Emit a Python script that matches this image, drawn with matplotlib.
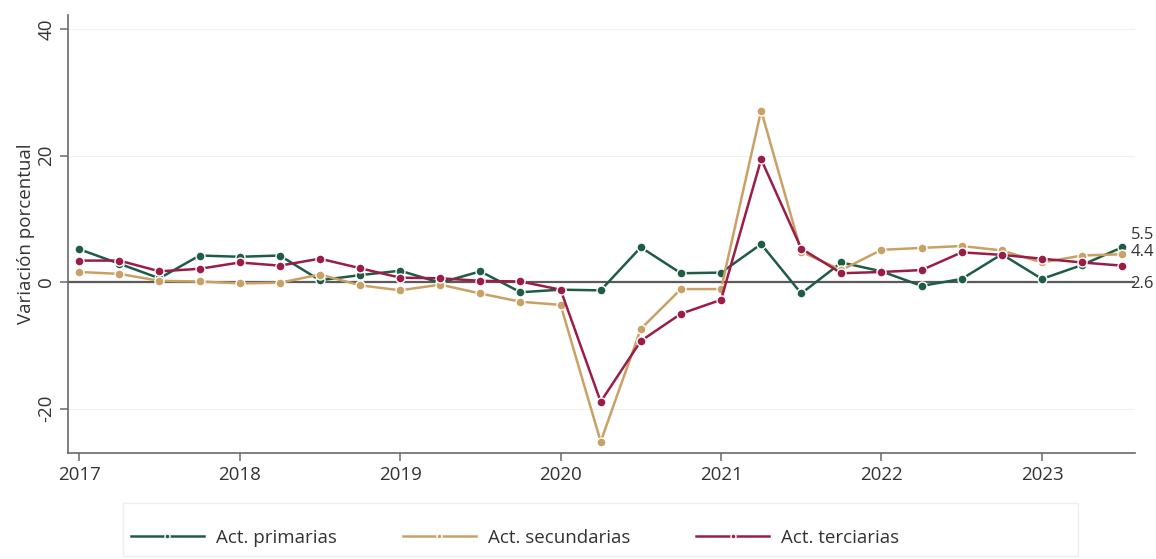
import numpy as np
import matplotlib.pyplot as plt
import matplotlib.transforms as mtransforms
from matplotlib.patches import Rectangle

plt.rcParams['font.family'] = ['Open Sans', 'DejaVu Sans']

# ---------- data (quarterly, 2017Q1 - 2023Q3) ----------
quarters = np.arange(27)
x_years = 2017 + quarters / 4.0

primarias = [5.2, 2.9, 0.6, 4.2, 4.0, 4.2, 0.3, 1.1, 1.8, -0.1, 1.7, -1.6, -1.2,
             -1.3, 5.5, 1.4, 1.5, 6.0, -1.8, 3.1, 1.7, -0.6, 0.5, 4.4, 0.5, 2.7, 5.5]
secundarias = [1.6, 1.3, 0.2, 0.1, -0.2, -0.1, 1.2, -0.5, -1.3, -0.4, -1.8, -3.1, -3.6,
               -25.2, -7.4, -1.1, -1.1, 27.1, 4.8, 1.9, 5.1, 5.4, 5.7, 5.0, 3.1, 4.2, 4.4]
terciarias = [3.4, 3.4, 1.7, 2.1, 3.1, 2.6, 3.7, 2.2, 0.7, 0.6, 0.2, 0.1, -1.2,
              -18.9, -9.3, -5.0, -2.8, 19.4, 5.3, 1.4, 1.6, 1.9, 4.7, 4.3, 3.7, 3.1, 2.6]

series_names = ["Act. primarias", "Act. secundarias", "Act. terciarias"]
series_colors = ["#1f5c45", "#c9a164", "#9b1d47"]
end_labels = ["5.5", "4.4", "2.6"]
end_label_y = [7.4, 4.7, -0.3]   # label placement (shifted to avoid overlap)

year_ticks = [2017, 2018, 2019, 2020, 2021, 2022, 2023]
y_ticks = [-20, 0, 20, 40]

TXT = "#333333"

# ---------- plot ----------
fig = plt.figure(figsize=(11.56, 5.59), dpi=100)
ax = fig.add_axes([68 / 1156, 1 - 453 / 559, (1135 - 68) / 1156, (453 - 15) / 559])

for yv in [-20, 20, 40]:
    ax.axhline(yv, color="#f0f0f0", lw=0.8, zorder=0)
ax.axhline(0, color="#5a5a5a", lw=1.6, zorder=1)

for vals, name, col in zip([primarias, secundarias, terciarias], series_names, series_colors):
    ax.plot(x_years, vals, color=col, lw=1.8, marker="o", ms=6.5,
            markerfacecolor=col, markeredgecolor="white", markeredgewidth=1.0,
            label=name, zorder=3)

# end-of-series labels, right-aligned at the figure edge
trans = mtransforms.blended_transform_factory(fig.transFigure, ax.transData)
for lab, yl in zip(end_labels, end_label_y):
    ax.text(1154 / 1156, yl, lab, transform=trans, fontsize=12, color=TXT,
            va="center", ha="right", clip_on=False)

ax.set_xlim(2016.93, 2023.58)
ax.set_ylim(-27, 42.2)
ax.set_xticks(year_ticks)
ax.set_xticklabels([str(y) for y in year_ticks], fontsize=13.5, color=TXT)
ax.set_yticks(y_ticks)
ax.set_yticklabels([str(y) for y in y_ticks], fontsize=13.5, color=TXT,
                   rotation=90, va="center")
ax.set_ylabel("Variación porcentual", fontsize=13.5, color=TXT, labelpad=2)

for s in ["top", "right"]:
    ax.spines[s].set_visible(False)
for s in ["left", "bottom"]:
    ax.spines[s].set_color("#6a6a6a")
    ax.spines[s].set_linewidth(1.2)
ax.tick_params(axis="both", direction="out", length=6, width=1.1, color="#6a6a6a")
ax.tick_params(axis="x", pad=3)
ax.tick_params(axis="y", pad=3)

# legend box
fig.patches.append(Rectangle((123 / 1156, 1 - 556 / 559), (1078 - 123) / 1156, 53 / 559,
                             transform=fig.transFigure, facecolor="white",
                             edgecolor="#eeeeee", lw=1.0, zorder=0))
leg = fig.legend(loc="center left", bbox_to_anchor=(114 / 1156, 1 - 538 / 559),
                 ncol=3, frameon=False, fontsize=13.5, handlelength=3.9,
                 columnspacing=3.5, handletextpad=0.65, markerscale=0.55)
for t in leg.get_texts():
    t.set_color(TXT)

fig.savefig("out.png", dpi=100)
